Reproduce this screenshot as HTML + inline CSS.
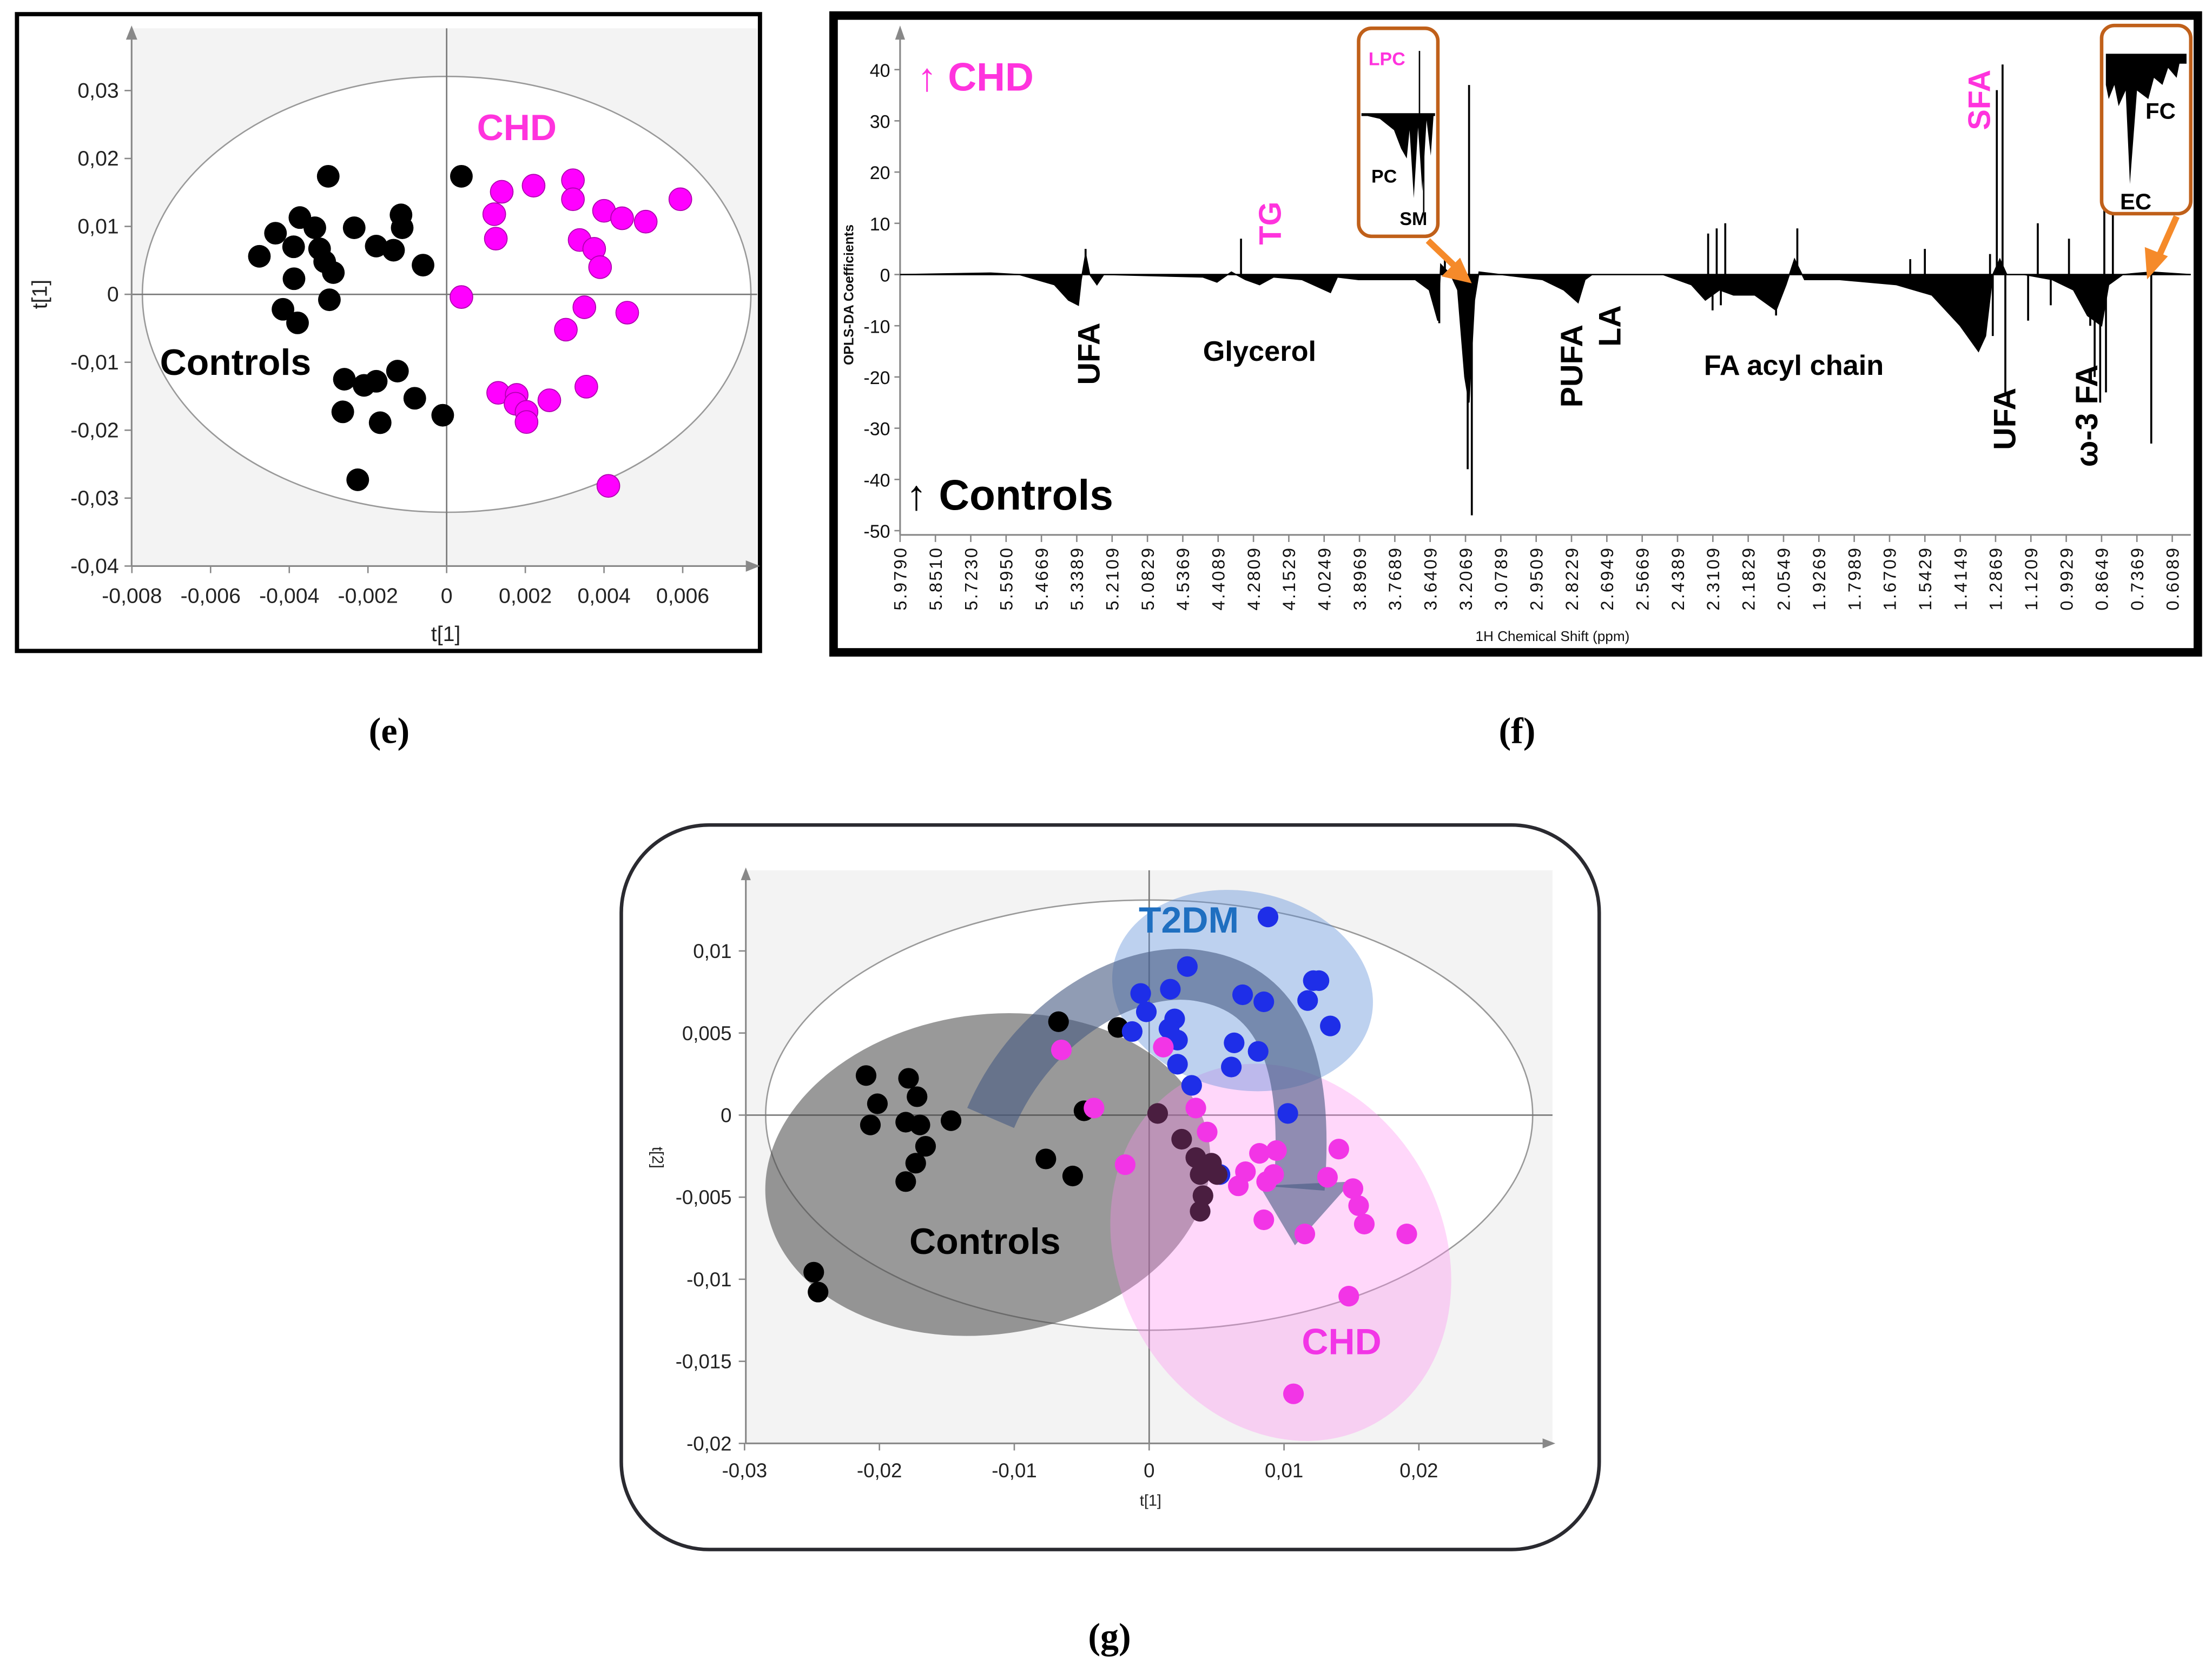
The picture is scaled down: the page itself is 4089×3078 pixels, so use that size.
<!DOCTYPE html>
<html><head><meta charset="utf-8"><style>
html,body{margin:0;padding:0;background:#fff;}
svg{display:block;}
text{font-family:"Liberation Sans",sans-serif;}
</style></head><body>
<svg id="fig" xmlns="http://www.w3.org/2000/svg" width="4089" height="3078" viewBox="0 0 1563 1176.6" preserveAspectRatio="none">
<rect width="1563" height="1177" fill="#fff"/>
<g id="pe"></g>
<g id="pf"></g>
<g id="pg"></g>
<text x="275" y="525" style="font-family:'Liberation Serif',serif" font-weight="bold" font-size="26" text-anchor="middle">(e)</text>
<text x="1072" y="525" style="font-family:'Liberation Serif',serif" font-weight="bold" font-size="26" text-anchor="middle">(f)</text>
<text x="784" y="1165" style="font-family:'Liberation Serif',serif" font-weight="bold" font-size="26" text-anchor="middle">(g)</text>
</svg>
<script>
// ---------- Panel E data ----------
const eCtrlX=[-0.00301,0.000375,-0.00476,-0.00435,-0.00373,-0.00335,-0.00389,-0.00323,-0.0031,-0.00288,-0.00388,-0.00235,-0.00179,-0.00135,-0.00116,-0.00113,-0.0006,-0.00298,-0.00416,-0.00379,-0.0026,-0.0021,-0.00179,-0.00125,-0.00264,-0.00169,-0.00081,-0.0001,-0.00226];
const eCtrlY=[0.01738,0.01738,0.0056,0.009,0.0113,0.0098,0.007,0.0067,0.0048,0.0032,0.0023,0.0098,0.0071,0.0065,0.0117,0.0098,0.0043,-0.0008,-0.0022,-0.0042,-0.0125,-0.0134,-0.0128,-0.0113,-0.0173,-0.0189,-0.0153,-0.0178,-0.0273];
const eChdX=[0.0014,0.00221,0.00321,0.00321,0.00121,0.00125,0.004,0.00446,0.00506,0.00594,0.00338,0.00375,0.0039,0.000375,0.0035,0.00459,0.00303,0.00131,0.00178,0.00175,0.00203,0.00203,0.00261,0.00355,0.00411];
const eChdY=[0.0151,0.016,0.0168,0.014,0.0118,0.0082,0.0123,0.0112,0.0107,0.014,0.008,0.0067,0.004,-0.0004,-0.0019,-0.0027,-0.0052,-0.0145,-0.0148,-0.0161,-0.0173,-0.0188,-0.0156,-0.0136,-0.0282];
const eXTicks=[-0.008,-0.006,-0.004,-0.002,0,0.002,0.004,0.006];
const eYTicks=[0.03,0.02,0.01,0,-0.01,-0.02,-0.03,-0.04];
// ---------- Panel F data ----------
const fTickLabels=["5.9790","5.8510","5.7230","5.5950","5.4669","5.3389","5.2109","5.0829","4.5369","4.4089","4.2809","4.1529","4.0249","3.8969","3.7689","3.6409","3.2069","3.0789","2.9509","2.8229","2.6949","2.5669","2.4389","2.3109","2.1829","2.0549","1.9269","1.7989","1.6709","1.5429","1.4149","1.2869","1.1209","0.9929","0.8649","0.7369","0.6089"];
const fYTicks=[40,30,20,10,0,-10,-20,-30,-40,-50];
const fEnvPpm=[5.979,5.651,5.548,5.420,5.369,5.333,5.323,5.307,5.292,5.266,5.241,4.464,4.413,4.361,4.310,4.259,4.208,4.105,4.002,3.977,3.900,3.695,3.644,3.546,3.511,3.390,3.303,3.216,3.194,3.174,3.158,3.081,2.928,2.851,2.799,2.774,2.748,2.492,2.389,2.338,2.287,2.236,2.159,2.082,2.046,2.015,1.979,1.851,1.646,1.518,1.415,1.349,1.323,1.297,1.267,1.234,1.154,1.044,0.967,0.916,0.865,0.839,0.788,0.685,0.542];
const fEnvVal=[0,0.3,0,-2,-5,-6,-1,4,0,-2,0,-0.5,-1.5,0.5,-1,-2,-0.5,-1,-3.5,-0.5,-1,-1,-3,-9,2,0,-3,-20,-25,-5,0.5,0,-1,-3,-5.5,-1,0,0,-2,-5,-3,-4,-4,-7,-2,3,-1,-1,-2,-4,-10,-15,-12,0,3,0,0,-1,-3,-8,-10,-2,0,0.5,0];
const fStickPpm=[5.307,4.326,3.529,3.460,3.199,3.194,3.184,2.328,2.312,2.297,2.282,2.266,2.082,2.005,1.596,1.543,1.307,1.297,1.281,1.254,1.241,1.134,1.096,1.049,0.983,0.906,0.890,0.870,0.855,0.849,0.824,0.685];
const fStickVal=[5,7,-9.5,4,-38,37,-47,8,-7,9,-6,10,-8,9,3,5,4,-12,36,41,-23,-9,10,-6,7,-10,-20,-25,23,-23,28,-33];
// ---------- Panel G data ----------
const gXTicks=[-0.03,-0.02,-0.01,0,0.01,0.02];
const gYTicks=[0.01,0.005,0,-0.005,-0.01,-0.015,-0.02];
const gXTickLabels=["-0,03","-0,02","-0,01","0","0,01","0,02"];
const gYTickLabels=["0,01","0,005","0","-0,005","-0,01","-0,015","-0,02"];
const gCtrlX=[-0.00672,-0.00231,-0.02099,-0.02015,-0.01784,-0.01721,-0.02067,-0.01805,-0.017,-0.01658,-0.01731,-0.01469,-0.01805,-0.00766,-0.00567,-0.00483,-0.02487,-0.02455];
const gCtrlY=[0.00569,0.00534,0.00241,0.00069,0.00224,0.00112,-0.0006,-0.00043,-0.0006,-0.0019,-0.00293,-0.00034,-0.00405,-0.00267,-0.00371,0.00026,-0.00957,-0.01078];
const gMixX=[0.00063,0.00241,0.00346,0.00378,0.00399,0.00462,0.00378,0.00504];
const gMixY=[0.0001,-0.00147,-0.00259,-0.00362,-0.00491,-0.00293,-0.00586,-0.00362];
const gT2X=[0.00881,0.00283,-0.00063,0.00157,-0.00021,0.00189,-0.00126,0.00147,0.0021,0.00693,0.0085,0.01175,0.01217,0.01259,0.01343,0.0063,0.00808,0.00609,0.0021,0.00315,0.01028,0.00525];
const gT2Y=[0.01207,0.00905,0.00741,0.00767,0.00629,0.00586,0.00509,0.00526,0.00457,0.00733,0.0069,0.00698,0.00819,0.00819,0.00543,0.0044,0.00388,0.00293,0.0031,0.00181,0.0001,-0.00362];
const gChdX=[-0.00651,0.00105,-0.00409,-0.00178,0.00346,0.0043,0.00714,0.00818,0.00944,0.00871,0.00923,0.00661,0.0085,0.01154,0.01322,0.01406,0.01511,0.01553,0.01595,0.0191,0.0148,0.0107];
const gChdY=[0.00397,0.00414,0.00043,-0.00302,0.00043,-0.00103,-0.00345,-0.00233,-0.00216,-0.00405,-0.00362,-0.00431,-0.00638,-0.00724,-0.00379,-0.00207,-0.00448,-0.00552,-0.00664,-0.00724,-0.01103,-0.01698];

const NS="http://www.w3.org/2000/svg";
function mk(parent,tag,attrs,text){const el=document.createElementNS(NS,tag);for(const k in attrs)el.setAttribute(k,attrs[k]);if(text!==undefined)el.textContent=text;parent.appendChild(el);return el;}
const fmtC=v=>String(v).replace('.',',');

// ===== Panel E =====
(function(){
const g=document.getElementById('pe');
const ex=v=>315.6+v/0.002*55.6, ey=v=>208-v/0.01*48;
let r=mk(g,'rect',{x:12,y:10,width:525,height:450,fill:'#fff',stroke:'#000','stroke-width':3});

r=mk(g,'rect',{x:93,y:20,width:442,height:380,fill:'#f3f3f3'});

let el=mk(g,'ellipse',{cx:315.6,cy:208,rx:215,ry:154,fill:'#fff',stroke:'#999','stroke-width':1});

mk(g,'line',{x1:93,y1:208,x2:535,y2:208,stroke:'#777','stroke-width':1});
mk(g,'line',{x1:315.6,y1:20,x2:315.6,y2:400,stroke:'#777','stroke-width':1});
let ax=mk(g,'path',{d:'M93 400 H530 M93 400 V25',stroke:'#888','stroke-width':1.2,fill:'none'});

mk(g,'path',{d:'M537 400 l-10 -4 v8z M93 18 l-4 10 h8z',fill:'#888'});
eXTicks.forEach(v=>{const x=ex(v);mk(g,'line',{x1:x,y1:400,x2:x,y2:405,stroke:'#888'});
 const t=mk(g,'text',{x:x,y:426,'font-size':15,'text-anchor':'middle',fill:'#222'},fmtC(v));
 });
eYTicks.forEach(v=>{const y=ey(v);mk(g,'line',{x1:88,y1:y,x2:93,y2:y,stroke:'#888'});
 const t=mk(g,'text',{x:84,y:y+5,'font-size':15,'text-anchor':'end',fill:'#222'},fmtC(v));
 });
eCtrlX.forEach((v,i)=>{const c=mk(g,'circle',{cx:ex(v),cy:ey(eCtrlY[i]),r:8,fill:'#000'});
 });
eChdX.forEach((v,i)=>{const c=mk(g,'circle',{cx:ex(v),cy:ey(eChdY[i]),r:8,fill:'#f0f','stroke':'#b000b0','stroke-width':0.7});
 });
let t=mk(g,'text',{x:337,y:99,'font-size':26,'font-weight':'bold',fill:'#ff33dd'},'CHD');
t=mk(g,'text',{x:113,y:265,'font-size':26,'font-weight':'bold',fill:'#000'},'Controls');
t=mk(g,'text',{x:315,y:453,'font-size':15,'text-anchor':'middle',fill:'#222'},'t[1]');
t=mk(g,'text',{x:0,y:0,'font-size':15,'text-anchor':'middle',fill:'#222',transform:'translate(33,208) rotate(-90)'},'t[1]');
})();

// ===== Panel F =====
(function(){
const g=document.getElementById('pf');
const X0=636,STEP=24.97;
const vals=fTickLabels.map(Number);
function fx(p){for(let i=0;i<vals.length-1;i++){if(p<=vals[i]&&p>=vals[i+1]){return X0+STEP*(i+(vals[i]-p)/(vals[i]-vals[i+1]));}}
 if(p>vals[0])return X0-(p-vals[0])/0.128*STEP;return X0+STEP*(vals.length-1)+(vals[vals.length-1]-p)/0.128*STEP;}
const fy=v=>194-v*3.62;
let r=mk(g,'rect',{x:589,y:11,width:964,height:450,fill:'#fff',stroke:'#000','stroke-width':6});

let ax=mk(g,'path',{d:'M636 378 V25 M636 378 H1548',stroke:'#888','stroke-width':1.2,fill:'none'});

mk(g,'path',{d:'M636 18 l-3.5 10 h7z',fill:'#888'});
fYTicks.forEach(v=>{const y=fy(v);mk(g,'line',{x1:632,y1:y,x2:636,y2:y,stroke:'#888'});
 const t=mk(g,'text',{x:629,y:y+5,'font-size':13,'text-anchor':'end',fill:'#111'},String(v));
 });
fTickLabels.forEach((s,i)=>{const x=X0+i*STEP;mk(g,'line',{x1:x,y1:378,x2:x,y2:383,stroke:'#888'});
 const t=mk(g,'text',{x:0,y:0,'font-size':12.5,'text-anchor':'end',fill:'#111','letter-spacing':'1.2',transform:`translate(${x+4.5},386) rotate(-90)`},s);
 });
let d='M'+fx(fEnvPpm[0])+' '+fy(0);
fEnvPpm.forEach((p,i)=>{d+=' L'+fx(p).toFixed(1)+' '+fy(fEnvVal[i]).toFixed(1);});
d+=' L'+fx(fEnvPpm[fEnvPpm.length-1])+' '+fy(0)+'Z';
let sp=mk(g,'path',{d:d,fill:'#000',stroke:'#000','stroke-width':0.8});

mk(g,'line',{x1:636,y1:fy(0),x2:1548,y2:fy(0),stroke:'#000','stroke-width':1});
fStickPpm.forEach((p,i)=>{const x=fx(p);const l=mk(g,'line',{x1:x,y1:fy(0),x2:x,y2:fy(fStickVal[i]),stroke:'#000','stroke-width':1.4});
 });
function lab(name,x,y,s,size,col,rot,w){const t=mk(g,'text',{x:0,y:0,'font-size':size,'font-weight':w||'bold',fill:col,transform:`translate(${x},${y})`+(rot?' rotate(-90)':'')},s);return t;}
lab('chd-direction-label',648,64,'↑ CHD',28,'#ff33dd');
lab('controls-direction-label',640,360,'↑ Controls',30,'#000');
lab('ufa-label',777,272,'UFA',22,'#000',1);
lab('tg-label',905,173,'TG',22,'#ff33dd',1);
lab('glycerol-label',850,255,'Glycerol',20,'#000');
lab('pufa-label',1118,288,'PUFA',22,'#000',1);
lab('la-label',1145,245,'LA',22,'#000',1);
lab('fa-acyl-chain-label',1204,265,'FA acyl chain',20,'#000');
lab('sfa-label',1406,92,'SFA',22,'#ff33dd',1);
lab('ufa-label-2',1424,318,'UFA',22,'#000',1);
lab('omega3-fa-label',1482,330,'ω-3 FA',22,'#000',1);
lab('y-axis-title',603,258,'OPLS-DA Coefficients',9.5,'#111',1);
let xt=mk(g,'text',{x:1097,y:453,'font-size':10,'text-anchor':'middle',fill:'#111'},'1H Chemical Shift (ppm)');

let ins=mk(g,'g',{});
mk(ins,'rect',{x:960,y:20,width:56,height:147,rx:9,fill:'#fff',stroke:'#c0601a','stroke-width':2.5});
mk(ins,'line',{x1:962,y1:81,x2:1014,y2:81,stroke:'#000','stroke-width':2});
mk(ins,'path',{d:'M962 81 L975 84 L985 92 L990 105 L994 112 L996 92 L999 140 L1002 90 L1005 135 L1008 85 L1011 110 L1013 81Z',fill:'#000'});
mk(ins,'line',{x1:1003,y1:36,x2:1003,y2:81,stroke:'#000','stroke-width':1});
mk(ins,'line',{x1:1006,y1:81,x2:1006,y2:150,stroke:'#000','stroke-width':1});
mk(ins,'text',{x:967,y:46,'font-size':13,'font-weight':'bold',fill:'#ff33dd'},'LPC');
mk(ins,'text',{x:969,y:129,'font-size':13,'font-weight':'bold',fill:'#000'},'PC');
mk(ins,'text',{x:989,y:159,'font-size':13,'font-weight':'bold',fill:'#000'},'SM');
let ar=mk(g,'path',{d:'M1009 170 L1030 190 M1036 197 l-13 -3 l8 -8z',stroke:'#f58a2a','stroke-width':4.5,fill:'#f58a2a'});

ins=mk(g,'g',{});
mk(ins,'rect',{x:1485,y:18,width:63,height:133,rx:9,fill:'#fff',stroke:'#c0601a','stroke-width':2.5});
mk(ins,'path',{d:'M1488 38 H1545 V45 L1540 45 L1538 55 L1532 48 L1528 60 L1522 55 L1518 70 L1510 64 L1505 130 L1502 64 L1497 75 L1494 60 L1490 70 L1488 60Z',fill:'#000'});
mk(ins,'text',{x:1516,y:84,'font-size':16,'font-weight':'bold',fill:'#000'},'FC');
mk(ins,'text',{x:1498,y:148,'font-size':16,'font-weight':'bold',fill:'#000'},'EC');
ar=mk(g,'path',{d:'M1538 153 L1526 180 M1519 192 l-1 -14 l10 4z',stroke:'#f58a2a','stroke-width':4.5,fill:'#f58a2a'});

})();

// ===== Panel G =====
(function(){
const g=document.getElementById('pg');
const gx=v=>812+v/0.01*95.3, gy=v=>788-v/0.01*116;
let r=mk(g,'rect',{x:439,y:583,width:691,height:512,rx:62,fill:'#fff',stroke:'#2a2a30','stroke-width':2.5});

r=mk(g,'rect',{x:527,y:615,width:570,height:405,fill:'#f3f3f3'});

let el=mk(g,'ellipse',{cx:812,cy:788,rx:271,ry:152,fill:'#fff',stroke:'#999','stroke-width':1});

mk(g,'line',{x1:527,y1:788,x2:1097,y2:788,stroke:'#777'});
mk(g,'line',{x1:812,y1:615,x2:812,y2:1020,stroke:'#777'});
let ax=mk(g,'path',{d:'M527 1020 H1093 M527 1020 V620',stroke:'#888','stroke-width':1.2,fill:'none'});

mk(g,'path',{d:'M1099 1020 l-9 -3.5 v7z M527 613 l-3.5 9 h7z',fill:'#888'});
gXTicks.forEach((v,i)=>{const x=gx(v);mk(g,'line',{x1:x,y1:1020,x2:x,y2:1025,stroke:'#888'});
 const t=mk(g,'text',{x:x,y:1044,'font-size':14,'text-anchor':'middle',fill:'#222'},gXTickLabels[i]);
 });
gYTicks.forEach((v,i)=>{const y=gy(v);mk(g,'line',{x1:522,y1:y,x2:527,y2:y,stroke:'#888'});
 const t=mk(g,'text',{x:517,y:y+5,'font-size':14,'text-anchor':'end',fill:'#222'},gYTickLabels[i]);
 });
let s=mk(g,'ellipse',{cx:698,cy:830,rx:158,ry:113,fill:'rgba(70,70,70,0.55)',transform:'rotate(-8 698 830)'});

s=mk(g,'ellipse',{cx:905,cy:885,rx:115,ry:138,fill:'rgba(255,140,240,0.35)',transform:'rotate(-28 905 885)'});

s=mk(g,'ellipse',{cx:878,cy:700,rx:93,ry:70,fill:'rgba(90,140,215,0.4)',transform:'rotate(12 878 700)'});

s=mk(g,'path',{d:'M700 790 C730 720 800 680 850 690 C905 700 925 750 918 840',stroke:'rgba(70,90,130,0.6)','stroke-width':36,fill:'none'});

mk(g,'path',{d:'M890 838 L955 835 L915 880Z',fill:'rgba(70,90,130,0.6)'});
function pts(xs,ys,col,name){xs.forEach((v,i)=>{const c=mk(g,'circle',{cx:gx(v),cy:gy(ys[i]),r:7.3,fill:col});
 });}
pts(gCtrlX,gCtrlY,'#000','control-point');
pts(gT2X,gT2Y,'#1e2ee8','t2dm-point');
pts(gChdX,gChdY,'#f235e6','chd-point');
pts(gMixX,gMixY,'#4a1e40','overlap-point');
let t=mk(g,'text',{x:840,y:659,'font-size':26,'font-weight':'bold','text-anchor':'middle',fill:'#1f6fc0'},'T2DM');
t=mk(g,'text',{x:696,y:886,'font-size':26,'font-weight':'bold','text-anchor':'middle',fill:'#000'},'Controls');
t=mk(g,'text',{x:948,y:957,'font-size':26,'font-weight':'bold','text-anchor':'middle',fill:'#f235e6'},'CHD');
t=mk(g,'text',{x:813,y:1064,'font-size':11,'text-anchor':'middle',fill:'#222'},'t[1]');
t=mk(g,'text',{x:0,y:0,'font-size':11,'text-anchor':'middle',fill:'#222',transform:'translate(461,818) rotate(90)'},'t[2]');
})();
</script>
</body></html>
